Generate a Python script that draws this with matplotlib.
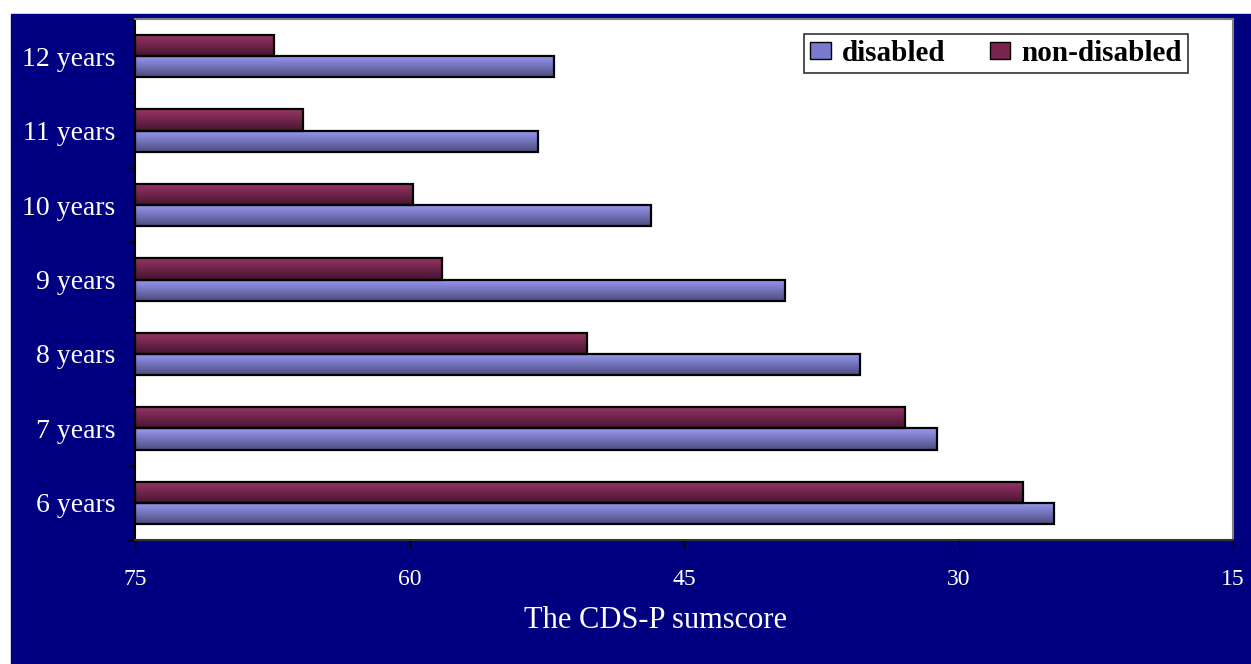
import numpy as np
import matplotlib.pyplot as plt
from matplotlib.patches import Rectangle, Patch

ages = ["6 years", "7 years", "8 years", "9 years", "10 years", "11 years", "12 years"]
disabled = [24.8, 31.2, 35.4, 39.5, 46.8, 53.0, 52.1]
non_disabled = [26.5, 32.9, 50.3, 58.2, 59.8, 65.8, 67.4]
x_ticks = [75, 60, 45, 30, 15]

NAVY = "#000080"
DIS_TOP, DIS_BOT = "#9a9af5", "#4c4c80"
NON_TOP, NON_BOT = "#9b3568", "#451530"


def gradient_fill(ax, bars, top, bottom):
    cmap = plt.matplotlib.colors.LinearSegmentedColormap.from_list("g", [bottom, top])
    grad = np.linspace(0, 1, 64).reshape(-1, 1)
    for bar in bars:
        x0, y0 = bar.get_x(), bar.get_y()
        w, h = bar.get_width(), bar.get_height()
        im = ax.imshow(grad, cmap=cmap, aspect="auto", origin="lower",
                       extent=(x0, x0 + w, y0, y0 + h), zorder=2)
        im.set_clip_path(bar)


fig = plt.figure(figsize=(12.51, 6.64), dpi=100, facecolor="white")
fig.patches.append(Rectangle((11 / 1251, 0), 1, (664 - 14) / 664,
                             transform=fig.transFigure, color=NAVY, zorder=-10))

ax = fig.add_axes([135 / 1251, 124 / 664, 1098 / 1251, 521 / 664])
ax.set_facecolor("white")

y = np.arange(len(ages))
h = 0.285
dis_bars = ax.barh(y - h / 2, [75 - v for v in disabled], left=disabled, height=h,
                   color=DIS_TOP, edgecolor="black", linewidth=1.6, zorder=3)
non_bars = ax.barh(y + h / 2, [75 - v for v in non_disabled], left=non_disabled, height=h,
                   color=NON_TOP, edgecolor="black", linewidth=1.6, zorder=3)
for b in list(dis_bars) + list(non_bars):
    b.set_facecolor("none")
gradient_fill(ax, dis_bars, DIS_TOP, DIS_BOT)
gradient_fill(ax, non_bars, NON_TOP, NON_BOT)

ax.set_xlim(75, 15)
ax.set_ylim(-0.5, len(ages) - 0.5)
ax.set_xticks(x_ticks)
ax.set_xticklabels([str(t) for t in x_ticks])
ax.set_yticks(y)
ax.set_yticklabels(ages)
ax.set_yticks(np.arange(-0.5, len(ages), 1), minor=True)
ax.tick_params(axis="y", which="major", length=0, pad=14, labelsize=20, labelcolor="white")
ax.tick_params(axis="y", which="minor", length=5, width=1, color="black")
ax.tick_params(axis="x", length=6, width=1, color="black", pad=15, labelsize=17, labelcolor="white")
for lab in ax.get_xticklabels() + ax.get_yticklabels():
    lab.set_fontfamily("Liberation Serif")

ax.set_xlabel("The CDS-P sumscore", fontsize=22, color="white", family="Liberation Serif",
              va="center")
ax.xaxis.set_label_coords((655 - 135) / 1098, (540 - 620) / 521)

ax.spines["left"].set_color("black")
ax.spines["bottom"].set_color("#333333")
ax.spines["top"].set_color("#808080")
ax.spines["right"].set_color("#808080")
for s in ax.spines.values():
    s.set_linewidth(1.5)

handles = [Patch(facecolor="#7a7ad0", edgecolor="black", label="disabled"),
           Patch(facecolor="#7a2550", edgecolor="black", label="non-disabled")]
leg = ax.legend(handles=handles, loc="upper right",
                bbox_to_anchor=((1188 - 135) / 1098, (540 - 34) / 521), ncol=2,
                frameon=True, fancybox=False, handlelength=0.7, handleheight=0.55,
                handletextpad=0.4, columnspacing=1.5, borderpad=0.2, borderaxespad=0,
                prop={"family": "Liberation Serif", "weight": "bold", "size": 21})
leg.get_frame().set_edgecolor("black")
leg.get_frame().set_linewidth(1.2)

fig.savefig("out.png", dpi=100, facecolor=fig.get_facecolor())
